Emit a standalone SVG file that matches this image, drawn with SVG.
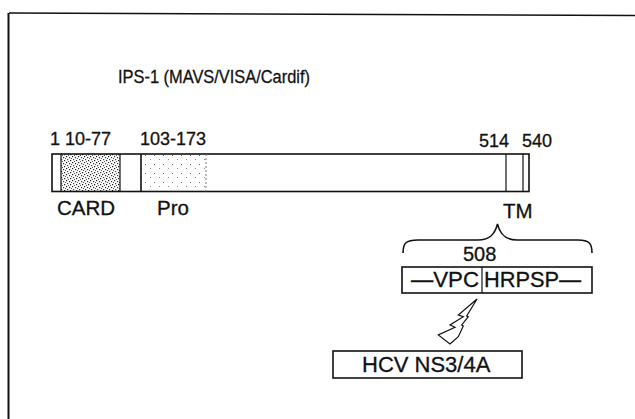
<svg xmlns="http://www.w3.org/2000/svg" width="635" height="419" viewBox="0 0 635 419">
<defs>
<pattern id="dense" width="6" height="6" patternUnits="userSpaceOnUse">
<rect width="6" height="6" fill="#fff"/>
<rect x="0" y="0" width="1.2" height="1.2" fill="#222"/>
<rect x="3" y="1" width="1.2" height="1.2" fill="#333"/>
<rect x="1" y="3" width="1.2" height="1.2" fill="#444"/>
<rect x="4" y="4" width="1.2" height="1.2" fill="#222"/>
<rect x="2" y="5" width="1" height="1" fill="#555"/>
<rect x="5" y="2" width="1" height="1" fill="#555"/>
</pattern>
<pattern id="sparse" width="9" height="9" patternUnits="userSpaceOnUse">
<rect width="9" height="9" fill="#fff"/>
<rect x="1" y="2" width="1" height="1" fill="#666"/>
<rect x="6" y="6" width="1" height="1" fill="#888"/>
</pattern>
<style>
text{font-family:"Liberation Sans",Arial,sans-serif;fill:#111;stroke:#111;stroke-width:0.3}
.ln{fill:none;stroke:#111;stroke-width:1.6}
.thin{fill:none;stroke:#111;stroke-width:1.2}
</style>
</defs>
<rect width="635" height="419" fill="#fff"/>
<g id="frame">
<line x1="9" y1="13" x2="635" y2="15.5" class="ln"/>
<line x1="8.5" y1="13" x2="8.5" y2="419" stroke="#111" stroke-width="2"/>
</g>
<g id="title"><text x="118" y="83" font-size="19" textLength="192" lengthAdjust="spacingAndGlyphs">IPS-1 (MAVS/VISA/Cardif)</text></g>
<g id="protein">
<rect x="61" y="154" width="59" height="37.5" fill="url(#dense)"/>
<rect x="141" y="154" width="65" height="37.5" fill="url(#sparse)"/>
<rect x="52" y="154" width="477" height="37.5" class="ln"/>
<line x1="61" y1="154" x2="61" y2="191.5" class="thin"/>
<line x1="120" y1="154" x2="120" y2="191.5" class="thin"/>
<line x1="141" y1="154" x2="141" y2="191.5" class="ln"/>
<line x1="206" y1="154" x2="206" y2="191.5" stroke="#777" stroke-width="1" stroke-dasharray="2 2"/>
<line x1="506" y1="154" x2="506" y2="191.5" class="thin"/>
<line x1="523" y1="154" x2="523" y2="191.5" class="thin"/>
<text x="50" y="145" font-size="18">1 10-77</text>
<text x="140" y="145" font-size="18">103-173</text>
<text x="479" y="147" font-size="18">514</text>
<text x="522" y="147" font-size="18">540</text>
<text x="57" y="215" font-size="20.5">CARD</text>
<text x="157" y="215" font-size="20.5">Pro</text>
<text x="503" y="218" font-size="20.5">TM</text>
</g>
<g id="brace">
<path d="M403,253 C403,243 406,240 418,240 L478,240 C490,240 495,234 497.5,224 C500,234 505,240 517,240 L578,240 C589,240 592,243 592,253" class="ln"/>
<text x="463" y="261" font-size="20">508</text>
</g>
<g id="sequence">
<rect x="402" y="267" width="190" height="26" class="ln"/>
<line x1="482" y1="267" x2="482" y2="293" class="thin"/>
<text x="411" y="287" font-size="22.5" textLength="68" lengthAdjust="spacingAndGlyphs">—VPC</text>
<text x="484" y="287" font-size="22.5" textLength="97" lengthAdjust="spacingAndGlyphs">HRPSP—</text>
</g>
<g id="connectors">
<path d="M477,299 L458.3,315 L463.3,316.7 L450,325 L455,327.3 L438.3,335 L450,344 L458.3,336.7 L463.3,326 L461.7,325 L468.3,316.7 L466.7,316 Z" class="thin"/>
</g>
<g id="hcv">
<rect x="333" y="351" width="189" height="27" class="ln"/>
<text x="362" y="372" font-size="22">HCV NS3/4A</text>
</g>
</svg>
